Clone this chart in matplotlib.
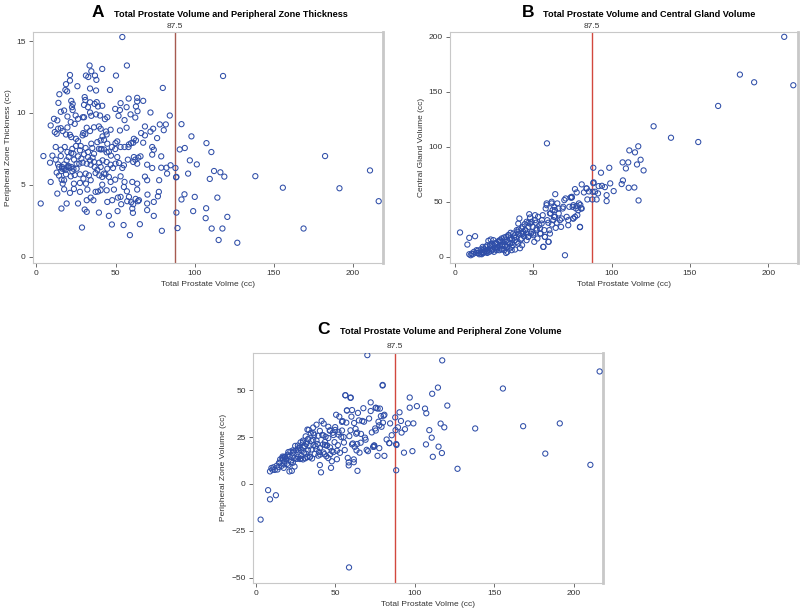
import numpy as np
import matplotlib
matplotlib.use('Agg')
import matplotlib.pyplot as plt
import matplotlib.transforms as transforms

plt.rcParams['font.family'] = ['Liberation Sans', 'DejaVu Sans']

# panel A: total prostate volume (cc) vs peripheral zone thickness
a_vol = [54.3, 57.2, 33.6, 34.7, 41.6, 50.3, 21.2, 21.2, 18.7, 31.3, 32.8, 37.0, 37.9, 33.9, 37.7,
         18.3, 19.4, 14.5, 25.9, 46.5, 79.9, 118.0,
         58.3, 63.7, 63.7, 67.5, 22.0, 22.9, 22.5, 22.9, 13.9, 30.5, 30.9, 30.1, 33.9, 32.6, 36.8, 38.1,
         38.9, 41.6, 53.2, 57.0, 49.8, 52.8, 62.9, 63.9, 72.1, 15.4, 33.9, 34.7, 37.7, 40.2, 44.8, 43.3,
         51.9, 55.7, 59.5, 62.5, 84.3, 91.7,
         9.0, 11.6, 13.7, 15.4, 16.6, 12.8, 18.7, 21.2, 22.0, 25.0, 26.3, 29.2, 29.6, 31.8, 33.9, 36.4,
         39.5, 40.6, 44.0, 44.4, 41.8, 46.9, 52.8, 57.0, 68.6, 73.8, 78.0, 81.8, 80.5, 76.3, 72.1, 66.2,
         68.6, 61.6, 59.9, 58.2, 51.1, 50.0, 30.9,
         12.2, 15.4, 17.9, 19.6, 22.7, 23.4, 25.0, 28.0, 27.5, 31.1, 32.6, 34.7, 35.3, 36.4, 39.5, 41.2,
         44.4, 45.8, 47.7, 49.8, 53.2, 55.7, 58.5, 61.2, 62.9, 67.5, 73.2, 74.2, 73.2, 78.9, 65.8, 61.6,
         51.1, 47.1, 4.4, 10.1, 15.4, 40.6, 42.7,
         8.6, 12.2, 13.7, 16.2, 17.5, 19.6, 20.8, 22.0, 23.4, 25.4, 27.1, 29.2, 31.8, 34.3, 36.4, 39.7,
         41.8, 44.4, 46.9, 50.0, 52.2, 55.3, 57.8, 61.2, 62.5, 63.7, 64.4, 70.0, 73.2, 78.9, 82.2, 84.8,
         87.9, 88.5, 82.6, 54.3, 48.4, 16.4, 18.5, 20.2, 22.7,
         12.8, 14.3, 15.9, 17.5, 18.7, 21.7, 24.2, 27.5, 29.7, 31.1, 33.2, 34.3, 37.4, 39.7, 41.6, 43.7,
         45.8, 46.9, 49.8, 53.2, 55.7, 60.6, 63.7, 68.6, 70.0, 77.6, 9.0, 16.6, 23.7, 27.5, 31.3, 41.6,
         13.2, 17.5, 21.2, 23.7, 27.5, 32.2, 37.4, 38.9, 40.6, 44.4, 49.0, 55.3, 57.2, 58.5, 63.7, 70.2,
         77.4, 76.8, 53.2, 62.7, 64.8,
         2.7, 19.1, 26.3, 31.8, 34.3, 36.0, 44.8, 47.9, 51.5, 53.6, 57.4, 59.9, 61.2, 64.2, 70.0, 74.2,
         15.8, 30.5, 31.8, 39.5, 51.3, 60.6, 61.0, 70.0,
         28.8, 47.7, 55.1, 59.1, 65.4, 74.2, 79.3, 45.8,
         14.3, 15.8, 17.5, 19.1, 20.4, 22.0, 23.8, 25.4, 26.3, 28.4, 30.1, 32.6, 33.9, 35.5, 36.8, 38.5,
         40.6, 42.7, 44.8, 38.5, 40.6, 42.7, 44.8, 19.6, 21.7, 24.2, 26.3, 29.3, 30.1, 17.5, 19.6, 24.8,
         11.1, 13.2,
         210.9, 216.4, 191.6, 182.5, 168.9, 155.8, 138.4, 127.0, 118.8, 116.3, 117.6, 120.7, 114.4,
         115.2, 112.3, 110.8, 109.6, 110.6, 107.5, 107.3, 107.0, 101.4, 100.1, 99.1, 98.0, 97.0, 95.9,
         93.8, 90.6, 93.6, 91.7, 89.2, 88.5, 88.3]
a_thick = [15.28, 13.3, 13.3, 12.9, 13.06, 12.6, 12.64, 12.25, 12.0, 12.6, 12.5, 12.6, 12.3, 11.7, 11.56,
           11.6, 11.5, 11.3, 11.86, 11.6, 11.74, 12.57,
           11.0, 11.05, 10.8, 10.84, 10.84, 10.63, 10.4, 10.2, 10.7, 11.1, 10.9, 10.56, 10.74, 10.4, 10.63, 10.75,
           10.45, 10.5, 10.68, 10.4, 10.28, 10.2, 10.45, 10.12, 10.03, 10.08, 10.03, 9.8, 9.9, 9.82, 9.7, 9.57,
           9.8, 9.5, 9.9, 9.68, 9.82, 9.22,
           9.13, 8.67, 8.9, 8.94, 8.74, 8.55, 8.5, 8.48, 8.32, 8.2, 8.04, 8.44, 8.6, 8.97, 8.74, 9.0,
           9.06, 8.9, 8.71, 8.5, 8.37, 8.83, 8.78, 8.97, 9.06, 8.9, 9.2, 9.2, 8.8, 8.25, 8.7, 8.6,
           8.44, 8.2, 7.9, 7.63, 8.02, 7.9, 8.53,
           7.63, 7.44, 7.63, 7.28, 7.5, 7.16, 7.7, 7.7, 7.4, 7.56, 7.28, 7.86, 7.56, 7.16, 7.5, 7.49,
           7.26, 7.3, 7.63, 7.49, 7.63, 7.63, 7.81, 7.93, 8.09, 7.93, 7.63, 7.44, 7.1, 6.98, 6.98, 6.93,
           6.93, 7.03, 7.0, 7.03, 7.0, 7.46, 7.46,
           6.54, 6.75, 6.42, 6.24, 6.12, 6.24, 6.19, 6.24, 6.12, 6.12, 6.47, 6.54, 6.47, 6.4, 6.59, 6.54,
           6.7, 6.59, 6.4, 6.47, 6.52, 6.36, 6.75, 6.59, 6.75, 6.47, 6.89, 6.4, 6.17, 6.19, 6.19, 6.36,
           6.17, 5.55, 5.78, 6.17, 6.17, 6.12, 6.05, 6.31, 5.94,
           5.85, 5.64, 5.36, 5.32, 5.73, 5.59, 5.68, 5.73, 5.43, 5.78, 5.66, 5.32, 5.82, 5.66, 5.55, 5.73,
           5.55, 5.2, 5.36, 5.59, 5.2, 5.2, 5.08, 5.57, 5.32, 5.32, 5.2, 5.08, 5.08, 5.13, 5.08, 5.01,
           4.39, 4.69, 4.44, 4.71, 4.51, 4.67, 4.51, 4.53, 4.62, 4.62, 4.67, 4.85, 4.55, 4.16, 4.67, 4.32,
           4.51, 4.2, 4.16, 4.02, 3.93,
           3.7, 3.7, 3.7, 3.93, 4.11, 3.93, 3.81, 3.93, 4.11, 3.65, 3.86, 3.79, 3.65, 3.86, 3.7, 3.81,
           3.35, 3.28, 3.12, 3.07, 3.17, 3.35, 3.05, 3.24,
           2.03, 2.24, 2.2, 1.5, 2.26, 2.84, 1.8, 2.84,
           6.24, 5.96, 6.42, 6.7, 6.93, 7.21, 6.75, 6.47, 6.98, 6.82, 7.12, 6.93, 6.7, 6.89, 6.24, 6.05,
           6.24, 5.78, 6.12, 7.97, 8.09, 8.13, 7.86, 8.99, 9.36, 9.24, 9.59, 9.7, 9.7, 10.17, 9.75, 9.82,
           9.59, 9.48,
           6.0, 3.86, 4.76, 7.0, 1.96, 4.8, 5.6, 0.97, 5.57, 5.87, 1.96, 2.77, 4.11,
           1.16, 5.96, 1.96, 5.41, 7.28, 7.9, 3.37, 2.68, 6.42, 4.16, 3.17, 8.37, 6.7, 5.78,
           7.56, 7.46, 4.34, 3.98, 1.99, 3.07, 5.52]

# panels B and C: total prostate volume vs central gland volume (cc)
vol = [9.1, 12.8, 7.9, 3.2, 9.1, 10.6, 12.1, 13.4, 14.5, 15.5, 16.4, 17.2, 18.1, 19.1, 19.8, 20.6,
       21.3, 22.3, 22.8, 23.4, 24.5, 25.5, 26.2, 27.0, 27.9, 28.7, 29.8, 30.4, 31.3, 31.9, 33.0, 33.4,
       34.3, 35.1, 36.4, 37.2, 38.3, 38.9, 39.8, 40.4, 41.1, 41.5, 42.3, 43.2, 44.0, 44.9, 45.7, 46.8,
       47.4, 47.9, 48.5, 49.6, 50.6, 51.1, 52.1, 53.0, 53.8, 54.7, 55.5, 56.4, 57.0, 57.9, 58.5, 58.7,
       58.9, 59.8, 60.6, 61.1, 61.7, 62.3, 63.2, 64.0, 64.3, 64.9, 65.3, 66.2, 67.0, 67.7, 68.7, 69.1,
       69.8, 70.2, 71.3, 72.3, 73.0, 73.8, 74.5, 75.5, 76.6, 77.2, 78.1, 79.1, 79.8, 80.4, 80.9, 82.3,
       84.0, 84.5, 85.5,
       28.7, 30.9, 32.6, 34.0, 35.5, 36.8, 37.7, 39.4, 40.6, 41.9, 42.8, 43.6, 44.5, 45.7, 46.6, 48.9,
       50.0, 51.7, 52.6, 54.3, 56.0, 57.4, 59.6, 60.2, 61.9, 62.8, 63.4,
       10.0, 11.3, 14.9, 16.8, 18.5, 20.2, 21.9, 24.0, 24.9, 26.6, 28.3, 30.0, 31.5, 32.6, 34.7, 36.2,
       26.6, 23.4, 20.6, 17.7, 33.0, 18.1,
       70.6, 74.5, 75.1, 77.7, 75.5, 77.7, 80.0,
       21.3, 24.5, 29.8, 34.0, 40.4, 42.6, 46.8, 47.9, 40.4, 45.7, 52.1, 50.0, 54.3, 57.4, 59.6, 56.4,
       58.5, 61.7, 63.8, 66.0, 60.6, 63.8, 68.1, 72.3, 74.5, 75.5, 78.7, 80.9, 76.6, 79.8, 51.1, 55.3,
       48.9, 36.2, 38.3, 31.9, 27.7, 26.6, 23.4, 20.2, 18.1, 14.9, 17.0, 13.8, 22.3, 25.5, 28.7, 31.9,
       35.1, 38.3, 43.6, 44.7, 39.4, 36.2, 29.8, 33.0, 42.6, 46.8,
       210.2, 181.9, 191.0, 216.0, 168.0, 126.8, 137.9, 155.3, 117.0, 111.3, 114.9, 107.0, 110.6, 116.2,
       118.5, 109.1, 120.4, 88.3, 98.5, 93.2, 88.5, 107.2, 106.4, 99.1, 110.9, 114.5, 117.2, 101.3,
       96.8, 96.8, 91.7, 93.8, 95.7, 91.3, 89.4, 87.9, 90.4, 87.7, 88.3, 84.0]
cg = [17.3, 18.8, 11.2, 22.2, 2.4, 3.0, 4.6, 3.6, 5.5, 2.4, 6.7, 4.2, 7.6, 5.5, 9.1, 3.6,
      6.7, 9.7, 15.8, 5.5, 10.6, 7.6, 12.7, 9.1, 14.6, 10.6, 7.6, 13.7, 17.6, 9.7, 15.2, 4.6,
      19.7, 12.1, 15.8, 21.2, 6.7, 17.6, 22.8, 12.1, 34.9, 7.9, 21.2, 27.3, 18.8, 24.3, 15.2, 31.0,
      38.8, 35.8, 21.2, 27.3, 13.7, 37.9, 24.3, 36.4, 28.8, 21.2, 33.4, 9.1, 24.3, 44.0, 48.6, 103.2,
      33.4, 13.7, 21.2, 39.5, 50.1, 42.5, 36.4, 57.0, 26.4, 31.0, 48.6, 39.5, 33.4, 27.3, 44.0, 45.5,
      51.6, 1.5, 36.4, 28.8, 45.5, 54.0, 54.0, 34.9, 61.6, 44.0, 37.9, 48.6, 27.0, 44.0, 65.9, 58.6,
      62.2, 52.2, 59.5,
      15.2, 10.6, 18.2, 13.7, 21.9, 10.6, 17.6, 13.7, 24.9, 15.8, 10.6, 22.8, 29.7, 21.2, 18.2, 31.9,
      21.2, 31.0, 16.7, 25.8, 37.9, 18.2, 31.0, 24.3, 29.4, 33.4, 45.5,
      1.5, 2.4, 3.6, 3.0, 4.2, 5.5, 4.6, 6.7, 4.6, 7.6, 6.1, 10.6, 6.1, 3.6, 7.6, 6.1,
      12.1, 12.1, 10.6, 9.1, 9.1, 3.6,
      53.1, 54.0, 45.5, 46.4, 34.9, 58.6, 47.3,
      14.6, 15.2, 16.7, 19.7, 21.2, 25.8, 27.3, 30.3, 30.3, 31.9, 25.8, 19.7, 21.2, 18.2, 13.7, 9.1,
      47.0, 48.6, 42.5, 44.0, 39.5, 36.4, 34.9, 33.4, 54.6, 47.0, 42.5, 44.0, 36.4, 27.3, 33.4, 30.3,
      22.8, 12.7, 15.2, 10.6, 8.5, 6.1, 6.7, 4.6, 6.1, 3.6, 2.4, 6.1, 10.6, 12.1, 13.7, 15.8,
      16.7, 19.7, 21.2, 24.3, 24.3, 9.1, 6.7, 9.1, 16.7, 18.2,
      200.0, 165.7, 158.7, 156.0, 137.2, 118.7, 108.3, 104.4, 100.5, 96.8, 95.0, 85.9, 85.9, 84.0,
      88.3, 80.4, 78.6, 81.0, 81.0, 76.5, 67.7, 69.5, 66.2, 66.8, 62.8, 63.1, 51.3, 59.8,
      56.1, 50.7, 64.3, 64.6, 63.4, 57.7, 59.2, 59.2, 52.2, 52.2, 67.0, 62.2]

# peripheral zone volume = total - central gland
pz = [v - c for v, c in zip(vol, cg)]

cutoff = 87.5
blue = '#2f4ea8'

fig = plt.figure(figsize=(8, 6.12), dpi=100)
ax1 = fig.add_axes([0.041, 0.570, 0.4375, 0.377])
ax2 = fig.add_axes([0.5625, 0.570, 0.435, 0.377])
ax3 = fig.add_axes([0.316, 0.0474, 0.4375, 0.376])

panels = [
    (ax1, a_vol, a_thick, 'Peripheral Zone Thickness (cc)', (-0.45, 15.6), [0, 5, 10, 15], (-2.3, 219), '#a65a50'),
    (ax2, vol, cg, 'Central Gland Volume (cc)', (-5.7, 204), [0, 50, 100, 150, 200], (-3.2, 219), '#d2483e'),
    (ax3, vol, pz, 'Peripheral Zone Volume (cc)', (-52.8, 69.9), [-50, -25, 0, 25, 50], (-1.7, 218), '#d2483e'),
]

for ax, x, y, ylab, ylim, yt, xlim, lc in panels:
    ax.scatter(x, y, s=14, facecolors='none', edgecolors=blue, linewidths=0.75, zorder=3)
    ax.axvline(cutoff, color=lc, lw=1.0, zorder=2)
    trans = transforms.blended_transform_factory(ax.transData, ax.transAxes)
    ax.text(cutoff, 1.012, '87.5', transform=trans, ha='center', va='bottom', fontsize=6, color='#333333')
    ax.set_xlim(*xlim)
    ax.set_ylim(*ylim)
    ax.set_yticks(yt)
    ax.set_xticks([0, 50, 100, 150, 200])
    ax.set_xlabel('Total Prostate Volme (cc)', fontsize=6, color='#333333', labelpad=3)
    ax.set_ylabel(ylab, fontsize=6, color='#333333', labelpad=3)
    ax.tick_params(labelsize=6, colors='#555555', length=3, width=0.6, labelcolor='#333333', pad=2)
    for side in ['left', 'bottom', 'top']:
        ax.spines[side].set_color('#c8c8c8')
        ax.spines[side].set_linewidth(0.8)
    ax.spines['right'].set_color('#c8c8c8')
    ax.spines['right'].set_linewidth(2.0)

# panel titles
fig.text(0.115, 0.979, 'A', fontsize=12.5, fontweight='bold', va='center')
fig.text(0.143, 0.977, 'Total Prostate Volume and Peripheral Zone Thickness', fontsize=6.6, fontweight='bold', va='center')
fig.text(0.652, 0.979, 'B', fontsize=12.5, fontweight='bold', va='center')
fig.text(0.679, 0.977, 'Total Prostate Volume and Central Gland Volume', fontsize=6.6, fontweight='bold', va='center')
fig.text(0.397, 0.461, 'C', fontsize=12.5, fontweight='bold', va='center')
fig.text(0.425, 0.459, 'Total Prostate Volume and Peripheral Zone Volume', fontsize=6.6, fontweight='bold', va='center')

plt.savefig('out.png', dpi=100)
